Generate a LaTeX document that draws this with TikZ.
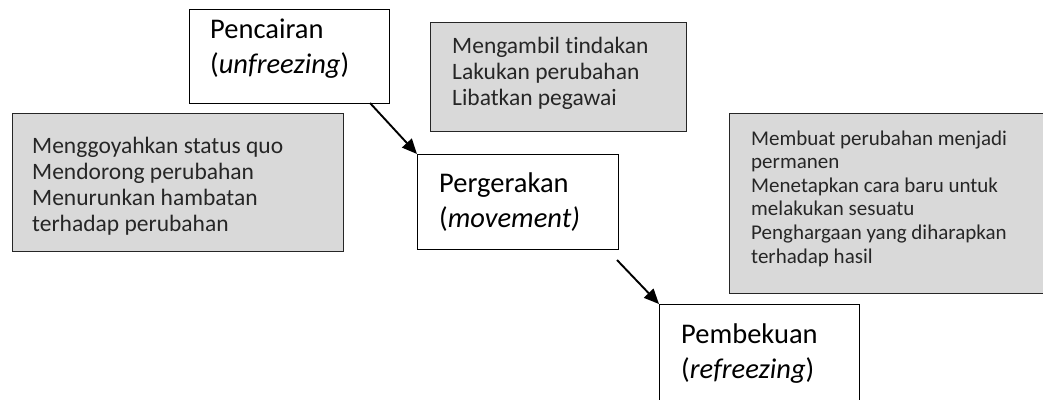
\documentclass[tikz,border=0pt]{standalone}
\usepackage{fontspec}
\setmainfont{Carlito}[Ligatures=NoCommon]
\usetikzlibrary{arrows.meta}
\definecolor{boxgray}{RGB}{217,217,217}
\begin{document}
\begin{tikzpicture}[x=1pt,y=-1pt,
  stagebox/.style={draw=black, line width=1.1pt, fill=white, rectangle, inner sep=0pt, anchor=north west},
  notebox/.style={draw=black!85, line width=1pt, fill=boxgray, rectangle, inner sep=0pt, anchor=north west},
  stagetext/.style={font=\fontsize{28.5}{34.5}\selectfont, align=left, anchor=base west, inner sep=0pt},
  notetext/.style={font=\fontsize{23.5}{25.8}\selectfont, align=left, anchor=base west, inner sep=0pt, text=black!85},
  smalltext/.style={font=\fontsize{21}{23.6}\selectfont, align=left, anchor=base west, inner sep=0pt, text=black!85},
  flow/.style={-{Triangle[length=15pt,width=13pt]}, line width=1.9pt}
]
\useasboundingbox (0,0) rectangle (1043,399);
\clip (0,0) rectangle (1043,399);

% note boxes (text nodes anchored at the baseline of their last line)
\node[notebox, minimum width=331pt, minimum height=138pt] (leftbox) at (12,113) {};
\node[notetext] (lefttxt) at (32,231) {Menggoyahkan status quo\\Mendorong perubahan\\Menurunkan hambatan\\terhadap perubahan};

\node[notebox, minimum width=256pt, minimum height=109pt] (topbox) at (430,22) {};
\node[notetext] (toptxt) at (452,105.5) {Mengambil tindakan\\Lakukan perubahan\\Libatkan pegawai};

\node[notebox, minimum width=340pt, minimum height=180pt] (rightbox) at (729,113) {};
\node[smalltext] (righttxt) at (751,263) {Membuat perubahan menjadi\\permanen\\Menetapkan cara baru untuk\\melakukan sesuatu\\Penghargaan yang diharapkan\\terhadap hasil};

% stage boxes
\node[stagebox, minimum width=200pt, minimum height=94pt] (pen) at (189,9) {};
\node[stagetext] (pentxt) at (210,73) {Pencairan\\(\textit{unfreezing})};

\node[stagebox, minimum width=201pt, minimum height=95pt] (per) at (417,154) {};
\node[stagetext] (pertxt) at (439,227) {Pergerakan\\(\textit{movement)}};

\node[stagebox, minimum width=200pt, minimum height=130pt] (pem) at (659,304) {};
\node[stagetext] (pemtxt) at (681,378) {Pembekuan\\(\textit{refreezing})};

% arrows
\coordinate (a1) at (370,103);
\coordinate (a2) at (617,260);
\draw[flow] (a1) -- (per.north west);
\draw[flow] (a2) -- (pem.north west);
\end{tikzpicture}
\end{document}
